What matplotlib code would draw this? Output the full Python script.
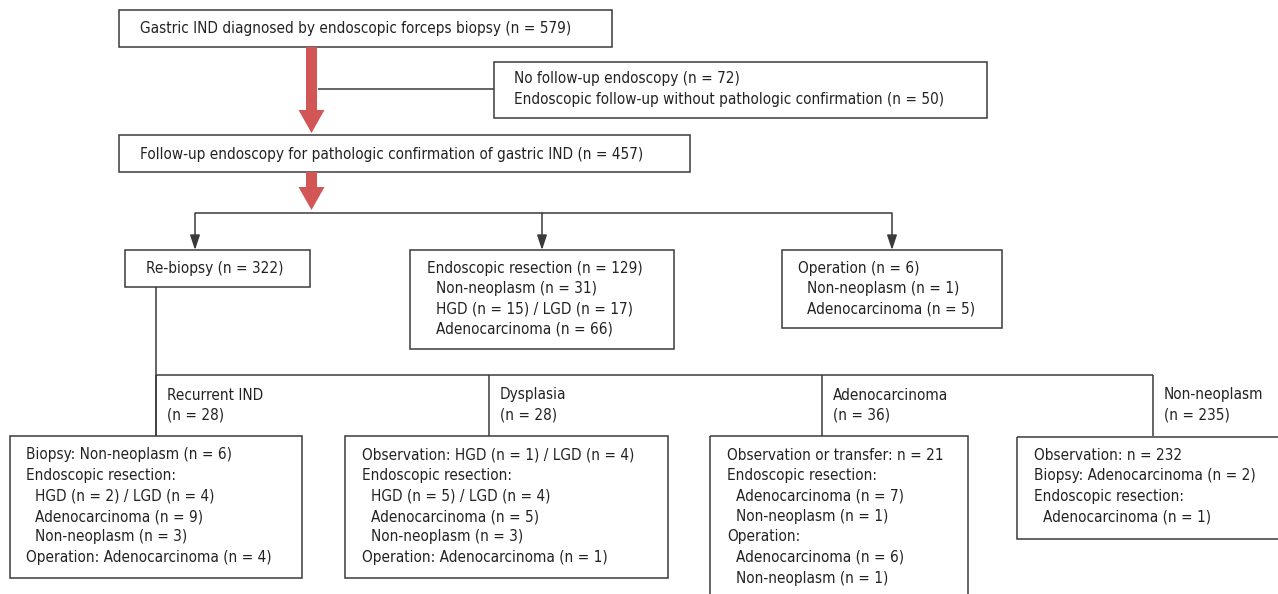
import matplotlib.pyplot as plt
from matplotlib.patches import Rectangle, FancyArrow
from matplotlib import font_manager

# box texts
top_text = ["Gastric IND diagnosed by endoscopic forceps biopsy (n = 579)"]
excluded_text = ["No follow-up endoscopy (n = 72)",
                 "Endoscopic follow-up without pathologic confirmation (n = 50)"]
followup_text = ["Follow-up endoscopy for pathologic confirmation of gastric IND (n = 457)"]
rebiopsy_text = ["Re-biopsy (n = 322)"]
resection_text = ["Endoscopic resection (n = 129)", " Non-neoplasm (n = 31)",
                  " HGD (n = 15) / LGD (n = 17)", " Adenocarcinoma (n = 66)"]
operation_text = ["Operation (n = 6)", " Non-neoplasm (n = 1)", " Adenocarcinoma (n = 5)"]

branch_labels = [["Recurrent IND", "(n = 28)"], ["Dysplasia", "(n = 28)"],
                 ["Adenocarcinoma", "(n = 36)"], ["Non-neoplasm", "(n = 235)"]]

recurrent_text = ["Biopsy: Non-neoplasm (n = 6)", "Endoscopic resection:",
                  " HGD (n = 2) / LGD (n = 4)", " Adenocarcinoma (n = 9)",
                  " Non-neoplasm (n = 3)", "Operation: Adenocarcinoma (n = 4)"]
dysplasia_text = ["Observation: HGD (n = 1) / LGD (n = 4)", "Endoscopic resection:",
                  " HGD (n = 5) / LGD (n = 4)", " Adenocarcinoma (n = 5)",
                  " Non-neoplasm (n = 3)", "Operation: Adenocarcinoma (n = 1)"]
adeno_text = ["Observation or transfer: n = 21", "Endoscopic resection:",
              " Adenocarcinoma (n = 7)", " Non-neoplasm (n = 1)", "Operation:",
              " Adenocarcinoma (n = 6)", " Non-neoplasm (n = 1)"]
nonneo_text = ["Observation: n = 232", "Biopsy: Adenocarcinoma (n = 2)",
               "Endoscopic resection:", " Adenocarcinoma (n = 1)"]

# narrow-ish font if there is one
cond = [f for f in font_manager.fontManager.ttflist
        if f.name == 'DejaVu Sans' and 'Condensed' in f.fname and f.weight in (400, 'normal')]
if cond:
    FP = dict(family='DejaVu Sans', stretch='condensed', fontsize=11.0)
else:
    FP = dict(family='Liberation Sans', fontsize=11.3)

LC = '#3a3a3a'
RED = '#d25656'
LH = 20.5  # line spacing in px

fig = plt.figure(figsize=(12.78, 5.94), dpi=100)
ax = fig.add_axes([0, 0, 1, 1])
ax.set_xlim(0, 1278)
ax.set_ylim(594, 0)
ax.axis('off')


def txt(x, y, s):
    ax.text(x, y, s, va='center', ha='left', color='#222222', **FP)


def box(x0, y0, x1, y1, lines, tx, ty, indent=9):
    ax.add_patch(Rectangle((x0, y0), x1 - x0, y1 - y0, fill=False, ec=LC, lw=1.1))
    for i, s in enumerate(lines):
        dx = indent if s.startswith(' ') else 0
        txt(tx + dx, ty + i * LH, s.strip())


def line(xs, ys):
    ax.plot(xs, ys, color=LC, lw=1.1, solid_capstyle='butt')


def red_arrow(x, y0, y1):
    ax.add_patch(FancyArrow(x, y0, 0, y1 - y0, width=11, head_width=26, head_length=23,
                            length_includes_head=True, color=RED, lw=0))


def thin_arrow(x, y0, y1):
    ax.annotate('', xy=(x, y1), xytext=(x, y0),
                arrowprops=dict(arrowstyle='-|>,head_length=0.9,head_width=0.3',
                                color=LC, lw=1.1, shrinkA=0, shrinkB=0))


box(119, 10, 612, 47, top_text, 140, 28)
box(494, 62, 987, 118, excluded_text, 514, 79)
line([318, 494], [89, 89])
red_arrow(311.5, 47, 133)
box(119, 135, 690, 172, followup_text, 140, 154)
red_arrow(311.5, 172, 210)

line([195, 892], [213, 213])
for bx in [195, 542, 892]:
    thin_arrow(bx, 213, 250)

box(125, 250, 310, 287, rebiopsy_text, 146, 268)
box(410, 250, 674, 349, resection_text, 427, 268)
box(782, 250, 1002, 328, operation_text, 798, 268)

line([156, 156], [287, 436])
line([156, 1153], [375, 375])
for bx, lab in zip([156, 489, 822, 1153], branch_labels):
    line([bx, bx], [375, 436])
    txt(bx + 11, 395, lab[0])
    txt(bx + 11, 415, lab[1])

box(10, 436, 302, 578, recurrent_text, 26, 455)
box(345, 436, 668, 578, dysplasia_text, 362, 455)
box(710, 436, 968, 600, adeno_text, 727, 455)
box(1017, 437, 1280, 539, nonneo_text, 1034, 455)

fig.savefig('out.png', dpi=100)
